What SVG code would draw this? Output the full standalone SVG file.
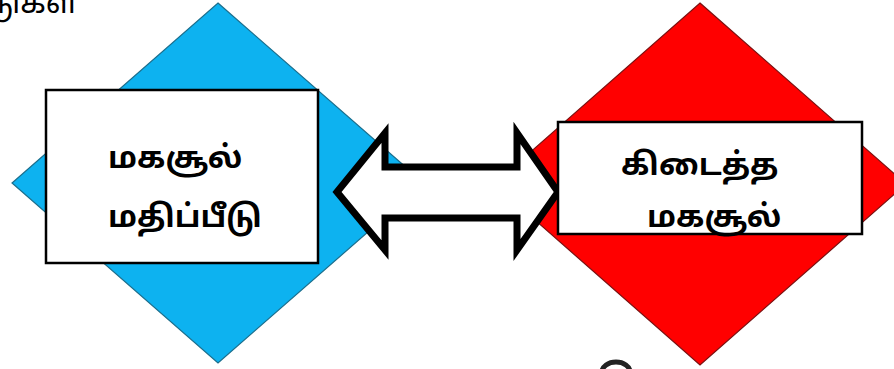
<svg xmlns="http://www.w3.org/2000/svg" width="894" height="369" viewBox="0 0 894 369">
<style>
.lbl{font-family:"Noto Sans Tamil","Lohit Tamil","Noto Sans","DejaVu Sans",sans-serif;font-size:31px;font-weight:700;fill:#000}
.box{fill:#fff;stroke:#000;stroke-width:2.5}
</style>
<rect width="894" height="369" fill="#fff"/>
<text class="lbl" x="79" y="13" text-anchor="end" style="font-weight:400">டுகள்</text>
<g id="diamond-left">
<polygon points="218,3 424,183 218,363 12,183" fill="#0DB2F0" stroke="#1C6E8C" stroke-width="1.2"/>
</g>
<g id="diamond-right">
<polygon points="700,3 906,184 700,365 494,184" fill="#FF0000" stroke="#7A1010" stroke-width="1.2"/>
</g>
<g id="connectors">
<path d="M337,192 L385,133 L385,167 L517,167 L517,133 L558,192 L517,250 L517,218 L385,218 L385,250 Z" fill="#fff" stroke="#000" stroke-width="7" stroke-linejoin="miter"/>
</g>
<g id="node-left">
<rect class="box" x="46" y="90" width="272" height="173"/>
<text class="lbl" x="108" y="168">மகசூல்</text>
<text class="lbl" x="108" y="227">மதிப்பீடு</text>
</g>
<g id="node-right">
<rect class="box" x="558" y="122" width="304" height="112"/>
<text class="lbl" x="621" y="175">கிடைத்த</text>
<text class="lbl" x="647" y="227">மகசூல்</text>
</g>
<ellipse cx="616" cy="372" rx="14" ry="10" fill="none" stroke="#222" stroke-width="5"/>
</svg>
